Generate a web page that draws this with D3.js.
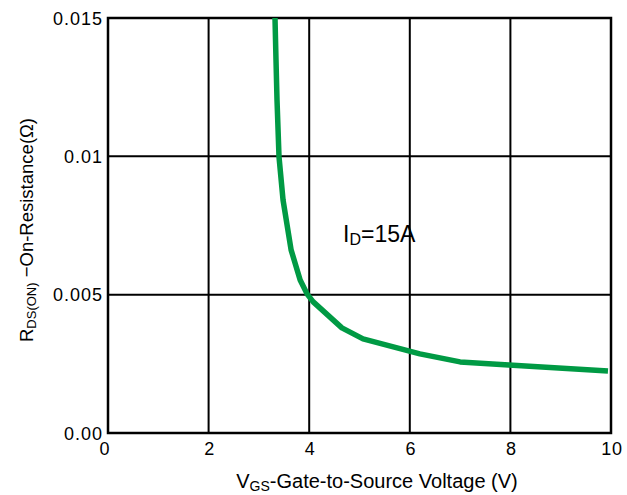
<!DOCTYPE html>
<html><head><meta charset="utf-8">
<script src="https://cdn.jsdelivr.net/npm/d3@7"></script>
<style>body{margin:0;background:#fff}svg{display:block}text{font-family:"Liberation Sans",Arial,sans-serif;fill:#000}</style>
</head><body>
<script>
const vgs = [3.32,3.34,3.36,3.40,3.48,3.64,3.82,3.96,4.08,4.65,5.07,6.20,7.00,7.97,9.94];
const rds = [0.0150,0.01348,0.01204,0.00998,0.00842,0.00662,0.00553,0.00502,0.00474,0.00380,0.00340,0.00286,0.00257,0.00246,0.00224];
const xTicks = [0,2,4,6,8,10];
const yTicks = [0,0.005,0.01,0.015];
const yTickLabels = ["0.00","0.005","0.01","0.015"];

const W=627,H=495, L=108,R=611,T=18,B=433;
const svg=d3.select("body").append("svg").attr("width",W).attr("height",H);
const x=d3.scaleLinear().domain([0,10]).range([L,R]);
const y=d3.scaleLinear().domain([0,0.015]).range([B,T]);

const g=svg.append("g");
g.selectAll(".vx").data(xTicks.slice(1,-1)).join("line")
 .attr("x1",d=>x(d)).attr("x2",d=>x(d)).attr("y1",T).attr("y2",B)
 .attr("stroke","#000").attr("stroke-width",2);
g.selectAll(".hy").data(yTicks.slice(1,-1)).join("line")
 .attr("x1",L).attr("x2",R).attr("y1",d=>y(d)).attr("y2",d=>y(d))
 .attr("stroke","#000").attr("stroke-width",2);
g.append("rect").attr("x",L).attr("y",T).attr("width",R-L).attr("height",B-T)
 .attr("fill","none").attr("stroke","#000").attr("stroke-width",2.5);

const pts=vgs.map((v,i)=>[v,rds[i]]);
g.append("path").datum(pts)
 .attr("d",d3.line().x(d=>x(d[0])).y(d=>y(d[1])).curve(d3.curveLinear))
 .attr("fill","none").attr("stroke","#009a44").attr("stroke-width",5.5).attr("stroke-linejoin","round");

svg.selectAll(".xt").data(xTicks).join("text")
 .attr("x",d=>x(d)+(d===0?-3:1)).attr("y",455).attr("text-anchor","middle")
 .attr("font-size",18).attr("letter-spacing",0.8).text(d=>d);
svg.selectAll(".yt").data(yTicks).join("text")
 .attr("x",L-5).attr("y",d=>y(d)+6.5).attr("text-anchor","end")
 .attr("font-size",18).attr("letter-spacing",1).text((d,i)=>yTickLabels[i]);

const xl=svg.append("text").attr("x",377).attr("y",488).attr("text-anchor","middle").attr("font-size",20);
xl.append("tspan").text("V");
xl.append("tspan").attr("font-size",14).attr("dy",2.5).text("GS");
xl.append("tspan").attr("dy",-2.5).text("-Gate-to-Source Voltage (V)");

const yl=svg.append("text").attr("transform","translate(33,230) rotate(-90)").attr("text-anchor","middle").attr("font-size",18.5);
yl.append("tspan").text("R");
yl.append("tspan").attr("font-size",13).attr("dy",3).text("DS(ON)");
yl.append("tspan").attr("dy",-3).text(" \u2212On-Resistance(\u03A9)");

const an=svg.append("text").attr("x",343).attr("y",242).attr("font-size",23);
an.append("tspan").text("I");
an.append("tspan").attr("font-size",16).attr("dy",3).text("D");
an.append("tspan").attr("dy",-3).text("=15A");
</script>
</body></html>
